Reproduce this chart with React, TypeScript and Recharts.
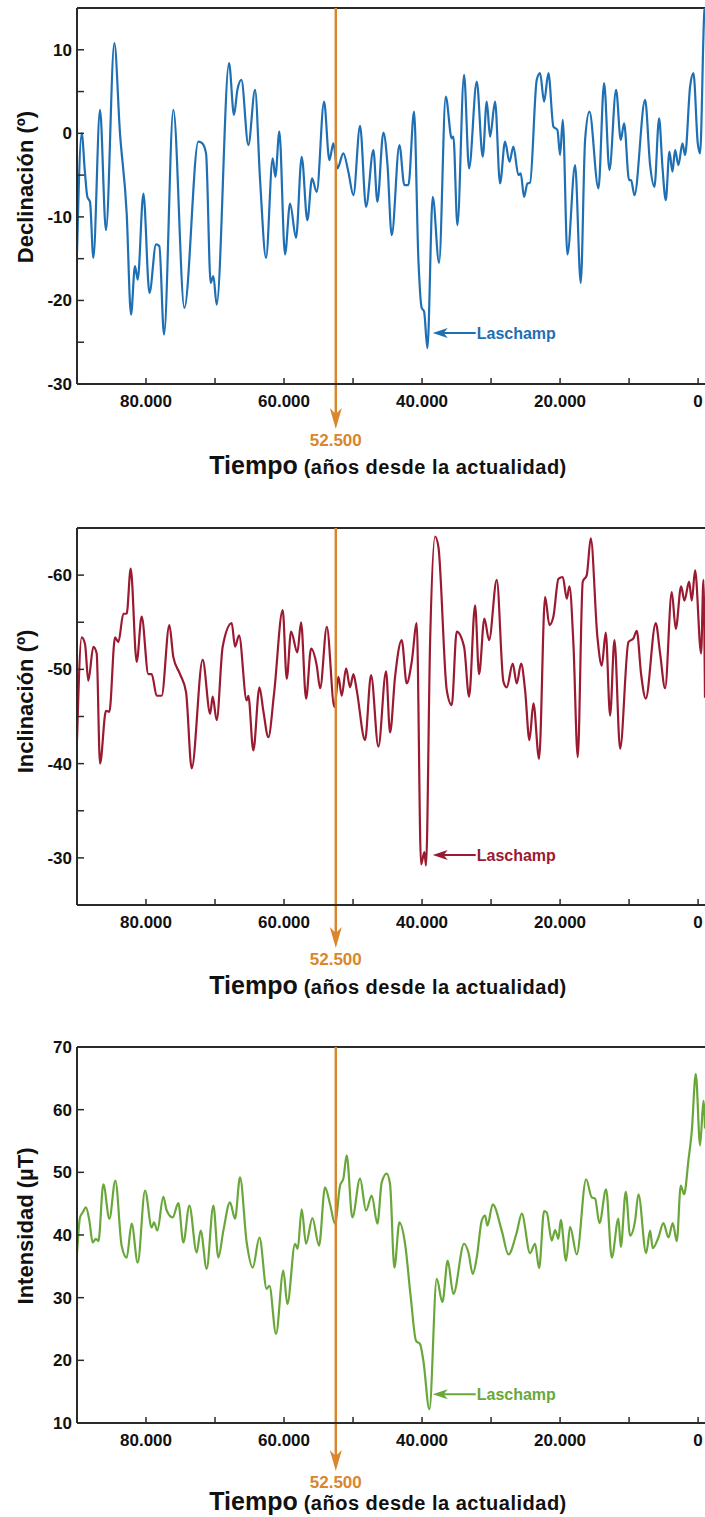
import { LineChart, Line, XAxis, YAxis, ReferenceLine, ReferenceDot } from 'recharts'

const FONT = '"Liberation Sans", Arial, Helvetica, sans-serif'
const ORANGE = '#d9862c'
const AXIS = '#2b2b2b'
const INK = '#111111'

// years before present (x) — shared by all three panels
const X_DOMAIN = [-1000, 90000]
const X_TICKS = [80000, 70000, 60000, 50000, 40000, 30000, 20000, 10000, 0]
const EVENT_YEAR = 52500
const LASCHAMP_YEAR = 38600

// Declinación (º)
const DECL_YEARS = [
  90000, 89324, 88840, 88500, 88116, 87630, 86667, 85800, 84590, 83770, 82800, 82174, 81600, 81200,
  80380, 79500, 78550, 78070, 77390, 76040, 74440, 72420, 71840, 71300, 70630, 70240, 69760, 67970,
  67250, 66760, 66180, 65170, 64200, 63470, 62610, 61640, 61260, 60680, 59860, 59130, 58260, 57440,
  56620, 55940, 55260, 54200, 53430, 52850, 52270, 51400, 50680, 49950, 48984, 48115, 47052, 46472,
  45603, 45023, 44395, 43284, 42559, 41980, 41158, 40530, 40049, 39709, 39226, 38453, 37535, 36569,
  35700, 35458, 34878, 33912, 33187, 32076, 31207, 30627, 30140, 29420, 28700, 27970, 27340, 26760,
  26040, 25700, 25220, 24734, 24346, 23380, 22900, 22317, 21690, 20965, 20385, 20000, 19612, 18935,
  17825, 17004, 16376, 15747, 14440, 13620, 12850, 11883, 11206, 10723, 10000, 9710, 9226, 7680,
  6956, 6328, 5651, 5168, 4685, 4154, 3719, 3333, 2850, 2270, 1883, 1159, 675, 47, -290, -919, -1000,
]
const DECL_VALUES = [
  -14.3, 0, -4.8, -7.6, -8.2, -14.9, 2.8, -11.6, 10.8, 0, -9.6, -21.7, -15.9, -17.5,
  -7.2, -19.1, -13.3, -13.5, -24.1, 2.8, -20.9, -1.0, -1.2, -2.4, -17.9, -17.1, -20.5, 8.4,
  2.2, 5.2, 6.4, -1.4, 5.2, -5.6, -14.9, -3.0, -5.2, 0.2, -14.5, -8.4, -12.5, -2.8,
  -10.4, -5.4, -7.0, 3.8, -3.2, -1.2, -4.2, -2.4, -4.6, -7.4, 0.9, -8.8, -2.0, -8.2,
  0.1, -3.6, -12.2, -1.4, -6.2, -6.2, 2.6, -15.1, -20.9, -21.3, -25.7, -7.6, -15.5, 4.4,
  -0.6, -0.4, -11.0, 7.0, -4.2, 6.2, -2.8, 3.8, -0.4, 3.8, -6.0, -1.0, -3.4, -1.6,
  -5.0, -4.8, -7.6, -6.0, -5.9, 6.4, 7.2, 3.8, 7.2, 0.8, 0.4, -2.6, 1.6, -14.5,
  -3.8, -17.9, -0.8, 2.6, -6.6, 6.0, -4.4, 5.2, -0.8, 1.2, -5.6, -5.6, -7.4, 4.0,
  -3.8, -6.4, 1.8, -4.0, -8.0, -2.2, -4.6, -2.0, -3.8, -1.2, -2.6, 5.6, 7.2, -1.2, -2.4, 14.7, 15,
]

// Inclinación (º)
const INCL_YEARS = [
  90000, 89324, 88840, 88360, 87630, 87150, 86667, 85800, 85310, 84490, 84000, 83280, 82800, 82220,
  81350, 80630, 79660, 79180, 78450, 77730, 76620, 76040, 75070, 74200, 73380, 71790, 70700, 70340,
  69760, 68890, 67580, 67100, 66520, 65410, 65170, 64450, 63560, 63000, 62270, 61450, 60190, 59610,
  58980, 58070, 57530, 56810, 56080, 55260, 54770, 53800, 52700, 52120, 51640, 51010, 50430, 49950,
  49468, 48260, 47390, 46327, 45216, 44637, 43912, 42946, 42221, 41497, 40772, 40144, 39660, 39420,
  38840, 38113, 37630, 36420, 35700, 34980, 33912, 33187, 32317, 31738, 30965, 30288, 29177, 28210,
  27728, 26858, 26280, 25650, 25070, 24440, 23864, 23042, 22172, 21545, 20965, 20240, 19610, 19030,
  18646, 18066, 17440, 16713, 16133, 15555, 14587, 13960, 13380, 12750, 12124, 11300, 10095, 9370,
  8888, 8260, 7584, 6135, 5507, 4780, 3816, 3236, 2463, 1980, 1303, 917, 434, -436, -774, -1000,
]
const INCL_VALUES = [
  -42.5, -53.4, -52.7, -48.8, -52.4, -51.7, -40.0, -45.6, -45.5, -53.4, -52.9, -55.9, -55.9, -60.7,
  -50.8, -55.6, -49.5, -49.5, -47.2, -47.2, -54.7, -51.3, -49.5, -47.6, -39.5, -51.0, -45.3, -47.1,
  -44.6, -52.4, -54.9, -52.4, -53.6, -46.7, -47.2, -41.4, -48.1, -45.6, -42.8, -47.4, -56.3, -49.0,
  -54.0, -51.8, -55.0, -46.9, -52.2, -50.4, -48.0, -54.5, -46.0, -49.2, -47.2, -50.1, -48.1, -49.5,
  -47.8, -42.5, -49.4, -41.8, -49.8, -43.3, -49.2, -53.1, -48.5, -50.8, -54.9, -29.3, -30.6, -29.2,
  -52.7, -64.1, -63.0, -47.8, -46.2, -54.0, -52.4, -47.1, -56.8, -49.5, -55.4, -53.1, -59.5, -48.7,
  -48.1, -50.6, -48.5, -50.6, -47.8, -42.5, -46.4, -40.5, -57.7, -54.7, -55.6, -59.6, -59.8, -57.5,
  -58.8, -52.7, -40.7, -59.3, -60.0, -63.9, -53.4, -50.4, -53.9, -45.1, -53.1, -41.6, -52.9, -53.3,
  -54.1, -49.5, -46.9, -54.9, -51.7, -48.0, -58.2, -54.3, -58.8, -57.3, -59.3, -57.3, -60.5, -51.7, -59.5, -47,
]

// Intensidad (µT)
const INT_YEARS = [
  90000, 89565, 89180, 88700, 88210, 87730, 87250, 86900, 86180, 85310, 84440, 83530, 82800, 82080,
  81200, 80140, 79180, 78840, 78360, 77490, 77000, 76135, 75315, 74590, 73720, 72660, 72080, 71210,
  70240, 69520, 68790, 67830, 67100, 66380, 65410, 64540, 63560, 62510, 62120, 61160, 60100, 59520,
  58400, 58020, 57440, 56810, 55890, 54930, 54060, 53330, 52610, 51880, 51400, 50920, 50100, 48984,
  48115, 47294, 46472, 45843, 45120, 44637, 44010, 43284, 42463, 41641, 40868, 40289, 39806, 38936,
  37874, 37052, 36278, 35458, 33912, 33283, 32656, 32076, 31351, 30868, 30530, 29757, 28452, 27486,
  26280, 25550, 24346, 23622, 23042, 22317, 21930, 21207, 20723, 20240, 19900, 19130, 18550, 17583,
  16230, 15410, 14926, 14298, 13330, 12510, 11545, 11206, 10480, 9853, 9130, 8645, 7535, 6955,
  6570, 5750, 5023, 4299, 3670, 3090, 2510, 2025, 1400, 915, 336, -290, -775, -1000,
]
const INT_VALUES = [
  37.0, 42.8, 43.6, 44.4, 42.3, 38.8, 39.4, 39.0, 48.1, 42.6, 48.7, 38.3, 36.4, 41.8,
  35.6, 47.1, 41.2, 42.0, 40.7, 46.1, 43.9, 42.8, 45.1, 38.8, 44.7, 37.2, 40.7, 34.6,
  44.7, 36.4, 40.7, 45.2, 42.6, 49.2, 38.8, 34.8, 39.6, 31.4, 31.9, 24.2, 34.3, 29.0,
  38.6, 37.8, 44.1, 38.6, 42.7, 38.3, 47.6, 44.9, 41.8, 47.9, 49.0, 52.7, 42.8, 49.0,
  43.9, 46.3, 41.8, 48.4, 49.8, 48.1, 34.8, 42.0, 38.6, 30.1, 23.1, 22.6, 19.9, 12.2,
  33.0, 29.3, 35.9, 30.6, 38.6, 37.2, 33.8, 36.4, 42.3, 43.1, 41.5, 44.9, 40.7, 36.9,
  40.4, 43.4, 37.1, 38.6, 34.7, 43.8, 43.6, 39.1, 40.8, 39.4, 42.4, 35.9, 41.3, 36.9,
  48.9, 46.0, 45.8, 41.9, 47.3, 36.4, 42.6, 38.1, 46.9, 39.9, 42.3, 46.5, 37.1, 40.7,
  37.9, 39.6, 41.9, 39.6, 41.9, 39.0, 47.9, 46.5, 51.9, 56.6, 65.7, 54.3, 61.4, 57,
]

const toRows = (years: number[], values: number[]) => years.map((t, i) => ({ t, v: values[i] }))

// 80000 -> "80.000"
const fmtYear = (v: number) => {
  if (v === 0) return '0'
  const k = Math.floor(v / 1000)
  const r = String(v % 1000).padStart(3, '0')
  return `${k}.${r}`
}
const xTickLabel = (v: number) => (v % 20000 === 0 ? fmtYear(v) : '')

function TimeTitle({ viewBox, gap }: any) {
  const { x, y, width } = viewBox
  return (
    <text
      x={x + width / 2 - 3}
      y={y + gap}
      textAnchor="middle"
      fontFamily={FONT}
      fontWeight={700}
      fill={INK}
    >
      <tspan fontSize={25}>Tiempo</tspan>
      <tspan fontSize={20} dx={6} letterSpacing={0.5}>
        (años desde la actualidad)
      </tspan>
    </text>
  )
}

function AxisTitle({ viewBox, text, shift }: any) {
  const { y, height } = viewBox
  const cx = 33
  const cy = y + height / 2 + shift
  return (
    <text
      x={cx}
      y={cy}
      transform={`rotate(-90, ${cx}, ${cy})`}
      textAnchor="middle"
      fontFamily={FONT}
      fontWeight={700}
      fontSize={22}
      fill={INK}
    >
      {text}
    </text>
  )
}

function EventMarker({ x1, y1, y2, tipGap, labelGap }: any) {
  const top = Math.min(y1, y2)
  const bottom = Math.max(y1, y2)
  const tip = bottom + tipGap
  return (
    <g>
      <line x1={x1} x2={x1} y1={top} y2={tip - 10} stroke={ORANGE} strokeWidth={2.5} />
      <polygon
        points={`${x1},${tip} ${x1 - 6},${tip - 21} ${x1},${tip - 15} ${x1 + 6},${tip - 21}`}
        fill={ORANGE}
      />
      <text
        x={x1}
        y={bottom + labelGap}
        textAnchor="middle"
        fontFamily={FONT}
        fontWeight={700}
        fontSize={17}
        fill={ORANGE}
      >
        {fmtYear(EVENT_YEAR)}
      </text>
    </g>
  )
}

function LaschampTag({ cx, cy, color }: any) {
  return (
    <g>
      <line x1={cx + 10} x2={cx + 44} y1={cy} y2={cy} stroke={color} strokeWidth={2} />
      <polygon
        points={`${cx + 1},${cy} ${cx + 16},${cy - 5} ${cx + 12},${cy} ${cx + 16},${cy + 5}`}
        fill={color}
      />
      <text
        x={cx + 45}
        y={cy + 5.5}
        fontFamily={FONT}
        fontWeight={700}
        fontSize={16}
        fill={color}
      >
        Laschamp
      </text>
    </g>
  )
}

interface PanelProps {
  data: { t: number; v: number }[]
  color: string
  top: number
  height: number
  marginTop: number
  axisHeight: number
  yDomain: number[]
  yTicks: number[]
  yLabelStep: number
  reversed?: boolean
  frameValue: number
  yTitle: string
  titleShift: number
  timeGap: number
  tipGap: number
  labelGap: number
  laschampValue: number
}

function Panel(p: PanelProps) {
  const tickStyle = { fill: INK, fontSize: 17, fontWeight: 700, fontFamily: FONT }
  return (
    <div style={{ position: 'absolute', left: 0, top: p.top }}>
      <LineChart
        width={705}
        height={p.height}
        data={p.data}
        margin={{ top: p.marginTop, right: 0, bottom: 0, left: 0 }}
      >
        <XAxis
          dataKey="t"
          type="number"
          domain={X_DOMAIN}
          reversed
          allowDataOverflow
          ticks={X_TICKS}
          interval={0}
          tickFormatter={xTickLabel}
          height={p.axisHeight}
          tickSize={-6}
          tickMargin={17}
          tick={tickStyle}
          axisLine={{ stroke: AXIS, strokeWidth: 2 }}
          tickLine={{ stroke: AXIS, strokeWidth: 1.5 }}
          label={<TimeTitle gap={p.timeGap} />}
        />
        <YAxis
          type="number"
          domain={p.yDomain}
          reversed={p.reversed}
          allowDataOverflow
          ticks={p.yTicks}
          interval={0}
          tickFormatter={(v: number) => (v % p.yLabelStep === 0 ? String(v) : '')}
          width={77}
          tickSize={-7}
          tickMargin={12}
          tick={tickStyle}
          axisLine={{ stroke: AXIS, strokeWidth: 2 }}
          tickLine={{ stroke: AXIS, strokeWidth: 1.5 }}
          label={<AxisTitle text={p.yTitle} shift={p.titleShift} />}
        />
        <ReferenceLine y={p.frameValue} stroke={AXIS} strokeWidth={2} />
        <Line
          type="monotone"
          dataKey="v"
          stroke={p.color}
          strokeWidth={2.2}
          dot={false}
          isAnimationActive={false}
        />
        <ReferenceLine
          x={EVENT_YEAR}
          shape={<EventMarker tipGap={p.tipGap} labelGap={p.labelGap} />}
        />
        <ReferenceDot
          x={LASCHAMP_YEAR}
          y={p.laschampValue}
          shape={<LaschampTag color={p.color} />}
        />
      </LineChart>
    </div>
  )
}

export default function App() {
  return (
    <div
      style={{
        position: 'absolute',
        left: 0,
        top: 0,
        width: 705,
        height: 1517,
        overflow: 'hidden',
        background: '#ffffff',
        fontFamily: FONT,
      }}
    >
      <Panel
        data={toRows(DECL_YEARS, DECL_VALUES)}
        color="#1f6fb4"
        top={0}
        height={510}
        marginTop={8}
        axisHeight={126}
        yDomain={[-30, 15]}
        yTicks={[-30, -25, -20, -15, -10, -5, 0, 5, 10]}
        yLabelStep={10}
        frameValue={15}
        yTitle="Declinación (º)"
        titleShift={-9}
        timeGap={90}
        tipGap={45}
        labelGap={62}
        laschampValue={-23.9}
      />
      <Panel
        data={toRows(INCL_YEARS, INCL_VALUES)}
        color="#9a1a31"
        top={510}
        height={520}
        marginTop={18}
        axisHeight={125}
        yDomain={[-65, -25]}
        yTicks={[-60, -55, -50, -45, -40, -35, -30]}
        yLabelStep={10}
        reversed
        frameValue={-65}
        yTitle="Inclinación (º)"
        titleShift={-15}
        timeGap={89}
        tipGap={43}
        labelGap={60}
        laschampValue={-30.3}
      />
      <Panel
        data={toRows(INT_YEARS, INT_VALUES)}
        color="#6aa73b"
        top={1030}
        height={487}
        marginTop={17}
        axisHeight={94}
        yDomain={[10, 70]}
        yTicks={[10, 20, 30, 40, 50, 60, 70]}
        yLabelStep={10}
        frameValue={70}
        yTitle="Intensidad (µT)"
        titleShift={-9}
        timeGap={87}
        tipGap={48}
        labelGap={65}
        laschampValue={14.6}
      />
    </div>
  )
}
